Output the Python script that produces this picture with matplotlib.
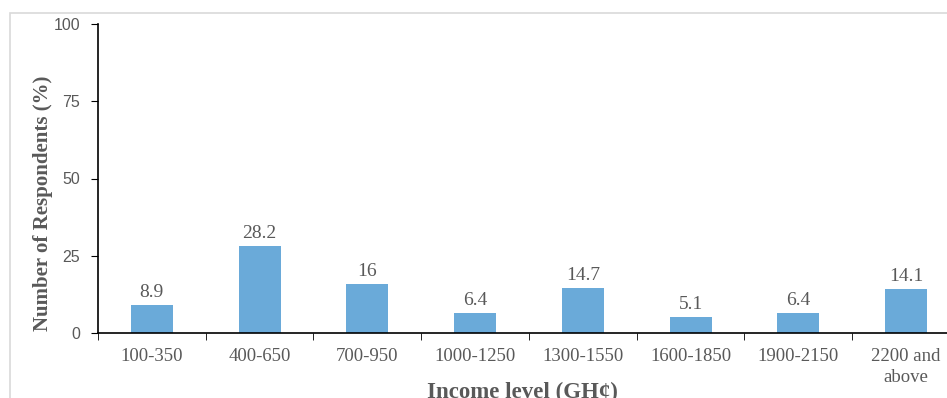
import matplotlib.pyplot as plt
from matplotlib.patches import Rectangle
from matplotlib.ticker import FixedLocator

categories = ["100-350", "400-650", "700-950", "1000-1250", "1300-1550",
              "1600-1850", "1900-2150", "2200 and\nabove"]
values = [8.9, 28.2, 16, 6.4, 14.7, 5.1, 6.4, 14.1]
value_labels = ["8.9", "28.2", "16", "6.4", "14.7", "5.1", "6.4", "14.1"]
yticks = [0, 25, 50, 75, 100]

grey = "#595959"
serif = ["Liberation Serif", "DejaVu Serif"]
sans = ["Liberation Sans", "DejaVu Sans"]

fig = plt.figure(figsize=(9.47, 3.98), dpi=100)

# light frame around the chart area
fig.patches.append(Rectangle((10 / 947, -0.1), 1.0, (398 - 13) / 398 + 0.1,
                             transform=fig.transFigure, fill=False,
                             edgecolor="#d9d9d9", linewidth=1.2))

ax = fig.add_axes([98 / 947, 65 / 398, 849 / 947, 309 / 398])
x = range(len(categories))
ax.bar(x, values, width=0.39, color="#6aaad9")

for i, (v, lab) in enumerate(zip(values, value_labels)):
    ax.text(i, v + 1.3, lab, ha="center", va="bottom", fontsize=14,
            family=serif, color=grey)

ax.set_ylim(0, 100)
ax.set_xlim(-0.5, 7.38)
ax.set_yticks(yticks)
ax.set_yticklabels([str(t) for t in yticks], family=sans, fontsize=11.5,
                   color=grey)
ax.set_xticks(list(x))
ax.set_xticklabels(categories, family=serif, fontsize=13.5, color=grey,
                   linespacing=1.25)
ax.xaxis.set_minor_locator(FixedLocator([i - 0.5 for i in range(9)]))
ax.tick_params(axis="x", which="major", length=0, pad=11)
ax.tick_params(axis="x", which="minor", length=5, direction="out")
ax.tick_params(axis="y", length=5, direction="out", pad=8)

for s in ["top", "right"]:
    ax.spines[s].set_visible(False)
for s in ["left", "bottom"]:
    ax.spines[s].set_linewidth(1.2)

ax.set_ylabel("Number of Respondents (%)", family=serif, fontsize=15,
              fontweight="bold", color=grey)
ax.yaxis.set_label_coords(-0.053, 0.42)
ax.set_xlabel("Income level (GH¢)", family=serif, fontsize=16.5,
              fontweight="bold", color=grey)
ax.xaxis.set_label_coords(0.5, -0.157)

fig.savefig("out.png", dpi=100)
